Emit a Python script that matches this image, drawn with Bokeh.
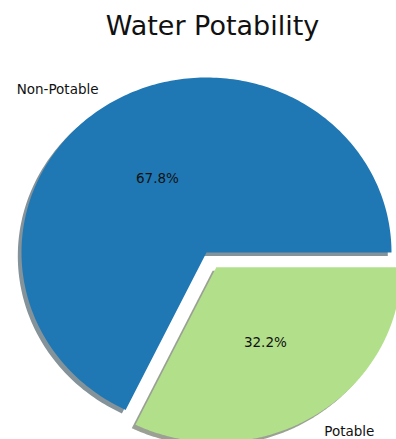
import numpy as np
from bokeh.plotting import figure
from bokeh.models import Range1d, Label, ColumnDataSource
from bokeh.core.properties import value
from bokeh.embed import file_html
from bokeh.resources import INLINE

title = "Water Potability"
labels = ["Non-Potable", "Potable"]
shares = [67.8, 32.2]
colors = ["#1f78b4", "#b2df8a"]
explode = [0.0, 0.1]

W, H = 396, 439
cx, cy = 206, 252
rx, ry = 185, 175
FONT = "DejaVu Sans"

p = figure(width=W, height=H, output_backend="svg", toolbar_location=None,
           x_range=Range1d(-cx / rx, (W - cx) / rx),
           y_range=Range1d(-(H - cy) / ry, cy / ry),
           min_border=0)
p.axis.visible = False
p.grid.visible = False
p.outline_line_color = None
p.border_fill_color = "white"
p.background_fill_color = "white"


def hex_to_rgb(h):
    h = h.lstrip("#")
    return [int(h[i:i + 2], 16) for i in (0, 2, 4)]


total = sum(shares)
start = 0.0
wedges = []
for lab, v, c, e in zip(labels, shares, colors, explode):
    a0 = 2 * np.pi * start / total
    a1 = 2 * np.pi * (start + v) / total
    mid = (a0 + a1) / 2
    ox, oy = e * np.cos(mid), e * np.sin(mid)
    t = np.linspace(a0, a1, 240)
    xs = np.concatenate([[0.0], np.cos(t), [0.0]]) + ox
    ys = np.concatenate([[0.0], np.sin(t), [0.0]]) + oy
    wedges.append((lab, v, c, mid, ox, oy, xs, ys))
    start += v

# shadows
for lab, v, c, mid, ox, oy, xs, ys in wedges:
    r, g, b = hex_to_rgb(c)
    sc = "#%02x%02x%02x" % tuple(int(round(255 - 0.5 * (255 - 0.3 * k))) for k in (r, g, b))
    p.patch(xs - 0.02, ys - 0.02, fill_color=sc, line_color=None)

# wedges
for lab, v, c, mid, ox, oy, xs, ys in wedges:
    p.patch(xs, ys, fill_color=c, line_color=None)

# labels
lx, ly, lt, la = [], [], [], []
px, py, pt = [], [], []
for lab, v, c, mid, ox, oy, xs, ys in wedges:
    x = ox + 1.1 * np.cos(mid)
    y = oy + 1.1 * np.sin(mid)
    lx.append(x); ly.append(y); lt.append(lab)
    la.append("left" if x > 0 else "right")
    px.append(ox + 0.5 * np.cos(mid)); py.append(oy + 0.5 * np.sin(mid))
    pt.append("%.1f%%" % v)

lsrc = ColumnDataSource(dict(x=lx, y=ly, text=lt, align=la))
p.text(x="x", y="y", text="text", source=lsrc, text_align="align",
       text_baseline="middle", text_font=value(FONT), text_font_size="13.5px",
       text_color="#111111")
psrc = ColumnDataSource(dict(x=px, y=py, text=pt))
p.text(x="x", y="y", text="text", source=psrc, text_align="center",
       text_baseline="middle", text_font=value(FONT), text_font_size="13.5px",
       text_color="#111111")

p.add_layout(Label(x=212, y=H - 25, x_units="screen", y_units="screen", text=title,
                   text_align="center", text_baseline="middle",
                   text_font=FONT, text_font_size="27px", text_color="#111111"))

open("out.html", "w").write(file_html(p, INLINE))
